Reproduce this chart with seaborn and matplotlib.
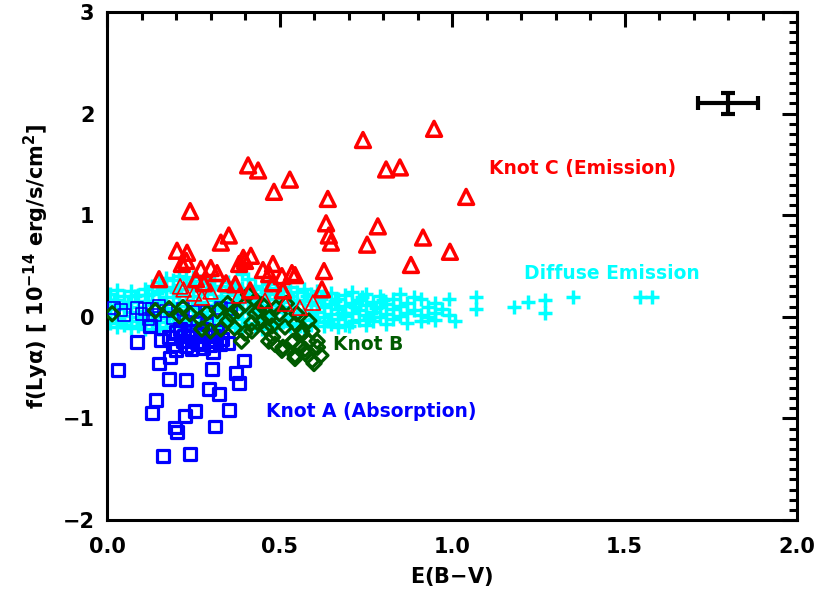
import numpy as np
import matplotlib
matplotlib.use("Agg")
import matplotlib.pyplot as plt
import seaborn as sns
from matplotlib.ticker import MultipleLocator, FormatStrFormatter

# Knot C (emission) - red triangles, thick outline
knot_c = [
    (0.948, 1.85), (0.742, 1.74), (0.409, 1.49), (0.438, 1.44), (0.530, 1.35),
    (0.484, 1.23), (0.809, 1.45), (0.849, 1.47), (1.041, 1.18), (0.640, 1.16),
    (0.241, 1.04), (0.635, 0.92), (0.785, 0.89), (0.643, 0.80), (0.649, 0.73),
    (0.916, 0.78), (0.754, 0.71), (0.353, 0.80), (0.330, 0.73), (0.994, 0.64),
    (0.881, 0.51), (0.629, 0.45), (0.623, 0.27), (0.203, 0.65), (0.232, 0.63),
    (0.217, 0.52), (0.151, 0.37), (0.272, 0.47), (0.301, 0.48), (0.319, 0.43),
    (0.383, 0.52), (0.417, 0.60), (0.400, 0.55), (0.452, 0.46), (0.481, 0.52),
    (0.507, 0.40), (0.536, 0.43), (0.481, 0.33), (0.345, 0.33), (0.372, 0.32),
    (0.258, 0.37), (0.281, 0.33), (0.510, 0.26), (0.415, 0.26), (0.230, 0.55),
    (0.395, 0.58), (0.545, 0.41), (0.470, 0.42),
]
# Knot C - thinner outline subset
knot_c_thin = [
    (0.212, 0.30), (0.222, 0.27), (0.252, 0.23), (0.275, 0.19), (0.559, 0.09),
    (0.597, 0.14), (0.516, 0.13), (0.458, 0.16), (0.382, 0.21), (0.300, 0.25),
]

# Knot A (absorption) - blue squares
knot_a = [
    (0.087, -0.25), (0.031, -0.52), (0.150, -0.46), (0.182, -0.40), (0.179, -0.61),
    (0.229, -0.62), (0.304, -0.51), (0.307, -0.35), (0.397, -0.43), (0.374, -0.55),
    (0.382, -0.65), (0.295, -0.71), (0.324, -0.76), (0.142, -0.82), (0.130, -0.95),
    (0.255, -0.93), (0.226, -0.98), (0.353, -0.92), (0.197, -1.09), (0.203, -1.13),
    (0.313, -1.08), (0.162, -1.37), (0.241, -1.35), (0.157, -0.23), (0.191, -0.28),
    (0.229, -0.29), (0.270, -0.27), (0.328, -0.27), (0.246, -0.20), (0.223, -0.19),
    (0.212, -0.12), (0.275, -0.12), (0.125, -0.09), (0.295, -0.24), (0.200, -0.15),
    (0.240, -0.14), (0.270, -0.17), (0.310, -0.19), (0.220, -0.24), (0.260, -0.25),
    (0.300, -0.28), (0.335, -0.22), (0.350, -0.26), (0.180, -0.20), (0.280, -0.31),
    (0.245, -0.32), (0.200, -0.33), (0.320, -0.14),
]
knot_a_thin = [
    (0.020, 0.09), (0.040, 0.07), (0.087, 0.09), (0.110, 0.08), (0.130, 0.08),
    (0.150, 0.11), (0.170, 0.06), (0.120, -0.02), (0.140, 0.02), (0.190, -0.01),
    (0.230, -0.05), (0.260, -0.06), (0.290, -0.08), (0.220, 0.08), (0.250, 0.05),
    (0.290, 0.05), (0.330, 0.09), (0.360, 0.08), (0.050, 0.02), (0.100, 0.03),
]

# Knot B - dark green diamonds
knot_b = [
    (0.600, -0.46), (0.545, -0.41), (0.507, -0.33), (0.469, -0.24), (0.574, -0.32),
    (0.609, -0.24), (0.536, -0.25), (0.565, -0.17), (0.594, -0.14), (0.516, -0.10),
    (0.478, -0.09), (0.449, -0.04), (0.545, -0.07), (0.585, -0.04), (0.487, -0.27),
    (0.430, 0.03), (0.015, 0.03), (0.180, 0.08), (0.210, 0.01), (0.240, 0.03),
    (0.270, -0.02), (0.275, -0.12), (0.300, -0.14), (0.330, -0.12), (0.350, -0.04),
    (0.370, -0.11), (0.390, -0.24), (0.400, -0.16), (0.380, 0.06), (0.410, 0.22),
    (0.430, 0.16), (0.440, 0.06), (0.350, 0.13), (0.320, 0.06), (0.470, -0.01),
    (0.490, 0.09), (0.520, 0.13), (0.550, 0.03), (0.460, -0.11), (0.480, -0.20),
    (0.510, -0.30), (0.540, -0.24), (0.565, -0.14), (0.585, -0.24), (0.610, -0.30),
    (0.595, -0.43), (0.545, -0.38), (0.575, -0.36), (0.140, 0.06), (0.220, 0.09),
    (0.420, -0.06), (0.400, 0.12), (0.360, 0.02), (0.450, 0.12), (0.500, 0.03),
    (0.560, -0.30), (0.620, -0.38), (0.420, -0.14), (0.290, 0.04),
]

# Diffuse emission - cyan crosses
diffuse = [
    (0.01, 0.22), (0.01, 0.12), (0.01, 0.03), (0.01, -0.06),
    (0.03, 0.26), (0.03, 0.17), (0.03, 0.08), (0.03, -0.02), (0.03, -0.10),
    (0.05, 0.20), (0.05, 0.11), (0.05, 0.01), (0.05, -0.08),
    (0.07, 0.25), (0.07, 0.15), (0.07, 0.05), (0.07, -0.04), (0.07, -0.11),
    (0.09, 0.21), (0.09, 0.10), (0.09, 0.00), (0.09, -0.09),
    (0.11, 0.27), (0.11, 0.16), (0.11, 0.06), (0.11, -0.03), (0.11, -0.12),
    (0.13, 0.30), (0.13, 0.22), (0.13, 0.12), (0.13, 0.02), (0.13, -0.07),
    (0.15, 0.34), (0.15, 0.25), (0.15, 0.15), (0.15, 0.05), (0.15, -0.05), (0.15, -0.12),
    (0.17, 0.38), (0.17, 0.29), (0.17, 0.19), (0.17, 0.09), (0.17, -0.01), (0.17, -0.10),
    (0.19, 0.36), (0.19, 0.26), (0.19, 0.14), (0.19, 0.04), (0.19, -0.06),
    (0.21, 0.40), (0.21, 0.31), (0.21, 0.21), (0.21, 0.11), (0.21, 0.01), (0.21, -0.09),
    (0.23, 0.37), (0.23, 0.27), (0.23, 0.17), (0.23, 0.07), (0.23, -0.03), (0.23, -0.11),
    (0.25, 0.39), (0.25, 0.30), (0.25, 0.20), (0.25, 0.10), (0.25, 0.00), (0.25, -0.08),
    (0.27, 0.35), (0.27, 0.25), (0.27, 0.15), (0.27, 0.05), (0.27, -0.05), (0.27, -0.12),
    (0.29, 0.33), (0.29, 0.22), (0.29, 0.12), (0.29, 0.02), (0.29, -0.08),
    (0.31, 0.36), (0.31, 0.27), (0.31, 0.17), (0.31, 0.07), (0.31, -0.03), (0.31, -0.11),
    (0.33, 0.30), (0.33, 0.20), (0.33, 0.10), (0.33, 0.00), (0.33, -0.09),
    (0.35, 0.34), (0.35, 0.24), (0.35, 0.14), (0.35, 0.04), (0.35, -0.06),
    (0.37, 0.31), (0.37, 0.21), (0.37, 0.11), (0.37, 0.01), (0.37, -0.10),
    (0.39, 0.42), (0.39, 0.28), (0.39, 0.18), (0.39, 0.08), (0.39, -0.02), (0.39, -0.11),
    (0.41, 0.37), (0.41, 0.26), (0.41, 0.15), (0.41, 0.05), (0.41, -0.06),
    (0.43, 0.30), (0.43, 0.20), (0.43, 0.10), (0.43, 0.00), (0.43, -0.09),
    (0.45, 0.27), (0.45, 0.17), (0.45, 0.07), (0.45, -0.03), (0.45, -0.12),
    (0.47, 0.32), (0.47, 0.22), (0.47, 0.12), (0.47, 0.02), (0.47, -0.08),
    (0.49, 0.28), (0.49, 0.18), (0.49, 0.08), (0.49, -0.02), (0.49, -0.10),
    (0.51, 0.25), (0.51, 0.15), (0.51, 0.05), (0.51, -0.05),
    (0.53, 0.29), (0.53, 0.20), (0.53, 0.10), (0.53, 0.00), (0.53, -0.09),
    (0.55, 0.24), (0.55, 0.14), (0.55, 0.04), (0.55, -0.06),
    (0.57, 0.27), (0.57, 0.17), (0.57, 0.07), (0.57, -0.03), (0.57, -0.11),
    (0.59, 0.22), (0.59, 0.12), (0.59, 0.02), (0.59, -0.08),
    (0.61, 0.25), (0.61, 0.15), (0.61, 0.05), (0.61, -0.05),
    (0.63, 0.20), (0.63, 0.10), (0.63, 0.00), (0.63, -0.09),
    (0.65, 0.23), (0.65, 0.13), (0.65, 0.03), (0.65, -0.07),
    (0.67, 0.18), (0.67, 0.08), (0.67, -0.02), (0.67, -0.10),
    (0.69, 0.21), (0.69, 0.11), (0.69, 0.01), (0.69, -0.08),
    (0.71, 0.24), (0.71, 0.14), (0.71, 0.04), (0.71, -0.05),
    (0.73, 0.17), (0.73, 0.07), (0.73, -0.03),
    (0.75, 0.22), (0.75, 0.12), (0.75, 0.02), (0.75, -0.08),
    (0.77, 0.15), (0.77, 0.05), (0.77, -0.04),
    (0.79, 0.20), (0.79, 0.10), (0.79, 0.00),
    (0.81, 0.13), (0.81, 0.03), (0.81, -0.07),
    (0.83, 0.18), (0.83, 0.08), (0.83, -0.02),
    (0.85, 0.22), (0.85, 0.11), (0.85, 0.01),
    (0.87, 0.14), (0.87, 0.04), (0.87, -0.06),
    (0.89, 0.19), (0.89, 0.07),
    (0.91, 0.18), (0.91, 0.02), (0.91, -0.04),
    (0.93, 0.10), (0.93, 0.00),
    (0.95, 0.14), (0.95, 0.04), (0.95, -0.03),
    (0.97, 0.08), (0.99, 0.18), (0.99, 0.02), (1.01, -0.04),
    (1.07, 0.19), (1.07, 0.08), (1.18, 0.10), (1.22, 0.15), (1.27, 0.17),
    (1.27, 0.04), (1.35, 0.19), (1.545, 0.19), (1.58, 0.19),
    # in-between points that fill the dense band
    (0.02, 0.17), (0.04, -0.05), (0.06, 0.15), (0.08, 0.20), (0.10, -0.06),
    (0.12, 0.21), (0.14, -0.03), (0.16, 0.28), (0.18, 0.02), (0.20, 0.24),
    (0.22, -0.05), (0.24, 0.33), (0.26, 0.14), (0.28, -0.09), (0.30, 0.28),
    (0.32, 0.12), (0.34, -0.04), (0.36, 0.28), (0.38, 0.15), (0.40, -0.08),
    (0.42, 0.22), (0.44, 0.05), (0.46, 0.24), (0.48, -0.05), (0.50, 0.20),
    (0.52, -0.02), (0.54, 0.17), (0.56, -0.09), (0.58, 0.20), (0.60, -0.02),
    (0.62, 0.18), (0.64, -0.04), (0.66, 0.16), (0.68, 0.04), (0.70, -0.09),
    (0.72, 0.10), (0.74, 0.19), (0.76, -0.01), (0.78, 0.09), (0.80, 0.17),
]

# calibration error bar
err_x, err_y = 1.80, 2.10
err_dx, err_dy = 0.087, 0.10

labels = [
    ("Knot C (Emission)", 1.107, 1.46, "red"),
    ("Diffuse Emission", 1.21, 0.43, "cyan"),
    ("Knot B", 0.655, -0.27, "#005a00"),
    ("Knot A (Absorption)", 0.46, -0.93, "blue"),
]


def xy(pts):
    a = np.array(pts)
    return a[:, 0], a[:, 1]


sns.set_style("white")
plt.rcParams['font.family'] = ['DejaVu Sans']
plt.rcParams['font.weight'] = 'bold'
plt.rcParams['mathtext.default'] = 'bf'
plt.rcParams['text.color'] = 'black'
plt.rcParams['axes.labelcolor'] = 'black'
plt.rcParams['xtick.color'] = 'black'
plt.rcParams['ytick.color'] = 'black'

fig = plt.figure(figsize=(8.18, 5.94), dpi=100)
ax = fig.add_axes([107 / 818, 74 / 594, 690 / 818, 508 / 594])

x, y = xy(diffuse)
sns.scatterplot(x=x, y=y, ax=ax, marker='+', s=110, color='cyan', linewidth=2.5, zorder=2)

x, y = xy(knot_a_thin)
sns.scatterplot(x=x, y=y, ax=ax, marker='s', s=72, facecolor='none',
                edgecolor='blue', linewidth=1.2, zorder=3)
x, y = xy(knot_a)
sns.scatterplot(x=x, y=y, ax=ax, marker='s', s=72, facecolor='none',
                edgecolor='blue', linewidth=2.3, zorder=3)

x, y = xy(knot_b)
sns.scatterplot(x=x, y=y, ax=ax, marker='D', s=52, facecolor='none',
                edgecolor='#005a00', linewidth=2.3, zorder=4)

x, y = xy(knot_c_thin)
sns.scatterplot(x=x, y=y, ax=ax, marker='^', s=115, facecolor='none',
                edgecolor='red', linewidth=1.2, zorder=5)
x, y = xy(knot_c)
sns.scatterplot(x=x, y=y, ax=ax, marker='^', s=115, facecolor='none',
                edgecolor='red', linewidth=2.5, zorder=5)

ax.errorbar(err_x, err_y, xerr=err_dx, yerr=err_dy, fmt='none', ecolor='black',
            elinewidth=3, capsize=5, capthick=3, zorder=6)

for txt, tx, ty, col in labels:
    ax.text(tx, ty, txt, color=col, fontsize=13.5, fontweight='bold', va='center', ha='left')

ax.set_xlim(0, 2)
ax.set_ylim(-2, 3)
ax.xaxis.set_major_locator(MultipleLocator(0.5))
ax.xaxis.set_minor_locator(MultipleLocator(0.1))
ax.yaxis.set_major_locator(MultipleLocator(1))
ax.yaxis.set_minor_locator(MultipleLocator(0.1))
ax.xaxis.set_major_formatter(FormatStrFormatter('%.1f'))
ax.tick_params(which='both', direction='in', top=True, right=True, width=2.2,
               labelsize=15, colors='black')
ax.tick_params(which='major', length=11, pad=9)
ax.tick_params(which='minor', length=5.8)
ax.tick_params(axis='x', which='major', pad=12)
for sp in ax.spines.values():
    sp.set_linewidth(2.2)
    sp.set_color('black')

ax.set_xlabel('E(B$-$V)', fontsize=15, fontweight='bold', labelpad=6)
ax.set_ylabel('f(Lyα) [ 10$^{-14}$ erg/s/cm$^{2}$]', fontsize=15, fontweight='bold', labelpad=8)

fig.savefig('out.png', dpi=100)
